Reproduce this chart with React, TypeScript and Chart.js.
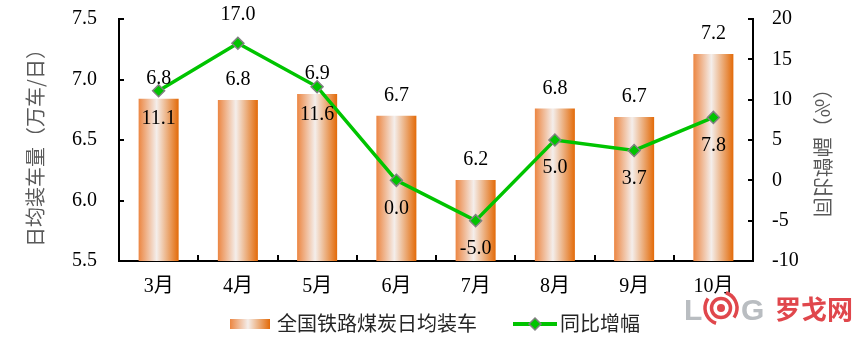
import React, { useEffect, useRef } from 'react';
import { Chart, registerables } from 'chart.js';

Chart.register(...registerables);

const months = ['3月', '4月', '5月', '6月', '7月', '8月', '9月', '10月'];
const dailyLoading = [6.84, 6.83, 6.88, 6.7, 6.17, 6.76, 6.69, 7.21];
const yoyGrowth = [11.1, 17.0, 11.6, 0.0, -5.0, 5.0, 3.7, 7.8];
const leftTicks = [5.5, 6.0, 6.5, 7.0, 7.5];
const rightTicks = [-10, -5, 0, 5, 10, 15, 20];
const barLegend = '全国铁路煤炭日均装车';
const lineLegend = '同比增幅';
const leftTitle = '日均装车量（万车/日）';
const rightTitle = '同比增幅（%）';
const lineLabelAbove = [false, true, false, false, false, false, false, false];

const SERIF = '"Liberation Serif", "Times New Roman", "Noto Sans CJK SC", serif';
const SANS = '"Noto Sans CJK SC", "Noto Sans", sans-serif';
const GREEN = '#00C400';
const BAR_PCT = 0.505;

function makeGradient(c: CanvasRenderingContext2D, x0: number, x1: number) {
  const g = c.createLinearGradient(x0, 0, x1, 0);
  g.addColorStop(0, '#EC8642');
  g.addColorStop(0.45, '#F4EEEB');
  g.addColorStop(1, '#E36A08');
  return g;
}

const decorPlugin = {
  id: 'decor',
  beforeDatasetsDraw(chart: any) {
    const c = chart.ctx as CanvasRenderingContext2D;
    const meta = chart.getDatasetMeta(0);
    meta.data.forEach((el: any) => {
      const x = el.x, w = el.width;
      if (!isFinite(x) || !isFinite(w)) return;
      el.options = { ...el.options, backgroundColor: makeGradient(c, x - w / 2, x + w / 2) };
    });
  },
  afterDatasetsDraw(chart: any) {
    const c = chart.ctx as CanvasRenderingContext2D;
    c.save();
    c.font = `20px ${SERIF}`;
    c.fillStyle = '#000';
    c.textAlign = 'center';
    c.textBaseline = 'middle';
    const barMeta = chart.getDatasetMeta(0);
    barMeta.data.forEach((el: any, i: number) => {
      c.fillText(dailyLoading[i].toFixed(1), el.x, el.y - 20);
    });
    const lineMeta = chart.getDatasetMeta(1);
    lineMeta.data.forEach((el: any, i: number) => {
      const dy = lineLabelAbove[i] ? -28 : 28;
      c.fillText(yoyGrowth[i].toFixed(1), el.x, el.y + dy);
    });
    c.restore();
  },
  afterDraw(chart: any) {
    const c = chart.ctx as CanvasRenderingContext2D;
    const a = chart.chartArea;
    c.save();
    // inward ticks
    c.strokeStyle = '#000';
    c.lineWidth = 2;
    c.beginPath();
    const ys = chart.scales.y;
    leftTicks.forEach((v) => {
      const y = Math.round(ys.getPixelForValue(v));
      c.moveTo(a.left, y);
      c.lineTo(a.left + 5, y);
    });
    const yr = chart.scales.y1;
    rightTicks.forEach((v) => {
      const y = Math.round(yr.getPixelForValue(v));
      c.moveTo(a.right - 5, y);
      c.lineTo(a.right, y);
    });
    const n = months.length;
    const cw = (a.right - a.left) / n;
    for (let i = 1; i < n; i++) {
      const x = Math.round(a.left + i * cw);
      c.moveTo(x, a.bottom);
      c.lineTo(x, a.bottom - 6);
    }
    c.stroke();

    // axis titles
    c.fillStyle = '#595959';
    c.font = `20px ${SANS}`;
    c.textAlign = 'center';
    c.textBaseline = 'middle';
    c.save();
    c.translate(35, 143);
    c.rotate(-Math.PI / 2);
    c.fillText(leftTitle, 0, 0);
    c.restore();
    c.save();
    c.translate(823, 148);
    c.rotate(-Math.PI / 2);
    c.scale(1, -1);
    c.fillText(rightTitle, 0, 0);
    c.restore();

    // legend
    c.fillStyle = makeGradient(c, 230, 270);
    c.fillRect(230, 319, 40, 10);
    c.fillStyle = '#262626';
    c.font = `20px ${SANS}`;
    c.textAlign = 'left';
    c.textBaseline = 'middle';
    c.fillText(barLegend, 277, 323);
    c.strokeStyle = GREEN;
    c.lineWidth = 4;
    c.beginPath();
    c.moveTo(513, 324);
    c.lineTo(557, 324);
    c.stroke();
    c.beginPath();
    c.moveTo(535, 318);
    c.lineTo(541, 324);
    c.lineTo(535, 330);
    c.lineTo(529, 324);
    c.closePath();
    c.fillStyle = GREEN;
    c.fill();
    c.strokeStyle = '#808080';
    c.lineWidth = 1.5;
    c.stroke();
    c.fillStyle = '#262626';
    c.fillText(lineLegend, 560, 323);

    // logo watermark
    c.fillStyle = '#B9BDC1';
    c.font = `bold 30px "Liberation Sans", Arial, sans-serif`;
    c.textBaseline = 'alphabetic';
    c.fillText('L', 684, 320);
    c.fillText('G', 741, 320);
    c.strokeStyle = '#E0474C';
    c.fillStyle = '#E0474C';
    c.lineWidth = 3.5;
    const cx = 721, cy = 308;
    c.beginPath();
    c.arc(cx, cy, 9.5, 0, Math.PI * 2);
    c.stroke();
    c.beginPath();
    c.arc(cx, cy, 4, 0, Math.PI * 2);
    c.fill();
    c.beginPath();
    c.arc(cx, cy, 16, Math.PI * 0.6, Math.PI * 1.2);
    c.stroke();
    c.beginPath();
    c.arc(cx, cy, 16, -Math.PI * 0.4, Math.PI * 0.2);
    c.stroke();
    c.font = `bold 26px ${SANS}`;
    c.textBaseline = 'middle';
    c.fillText('罗戈网', 775, 309);
    c.restore();
  },
};

const zeroPad = (s: any) => {
  s.paddingTop = 0;
  s.paddingBottom = 0;
  s.paddingLeft = 0;
  s.paddingRight = 0;
};

export default function App() {
  const ref = useRef<HTMLCanvasElement | null>(null);
  useEffect(() => {
    if (!ref.current) return;
    const chart = new Chart(ref.current, {
      type: 'bar',
      data: {
        labels: months,
        datasets: [
          {
            type: 'bar',
            label: barLegend,
            data: dailyLoading,
            yAxisID: 'y',
            order: 2,
            barPercentage: BAR_PCT,
            categoryPercentage: 1,
            borderWidth: 0,
            backgroundColor: '#EC8A48',
          } as any,
          {
            type: 'line',
            label: lineLegend,
            data: yoyGrowth,
            yAxisID: 'y1',
            order: 1,
            borderColor: GREEN,
            borderWidth: 3.5,
            tension: 0,
            pointStyle: 'rectRot',
            pointRadius: 6,
            pointBackgroundColor: GREEN,
            pointBorderColor: '#808080',
            pointBorderWidth: 1.5,
          } as any,
        ],
      },
      options: {
        responsive: false,
        animation: false,
        layout: { padding: { top: 19, left: 0, right: 0, bottom: 0 } },
        plugins: { legend: { display: false }, tooltip: { enabled: false } },
        scales: {
          x: {
            grid: { display: false, drawTicks: false },
            border: { display: true, color: '#000', width: 2 },
            ticks: { font: { family: SERIF, size: 20 }, color: '#000', padding: 14, maxRotation: 0, autoSkip: false },
            afterFit: (s: any) => { s.height = 93; zeroPad(s); },
          },
          y: {
            position: 'left',
            min: 5.5,
            max: 7.5,
            afterBuildTicks: (s: any) => { s.ticks = leftTicks.map((v) => ({ value: v })); },
            grid: { display: false, drawTicks: false },
            border: { display: true, color: '#000', width: 2 },
            ticks: { font: { family: SERIF, size: 20 }, color: '#000', padding: 22, callback: (v: any) => Number(v).toFixed(1) },
            afterFit: (s: any) => { s.width = 119; zeroPad(s); },
          },
          y1: {
            position: 'right',
            min: -10,
            max: 20,
            afterBuildTicks: (s: any) => { s.ticks = rightTicks.map((v) => ({ value: v })); },
            grid: { display: false, drawTicks: false },
            border: { display: true, color: '#000', width: 2 },
            ticks: { font: { family: SERIF, size: 20 }, color: '#000', padding: 19, callback: (v: any) => String(v) },
            afterFit: (s: any) => { s.width = 112; zeroPad(s); },
          },
        },
      } as any,
      plugins: [decorPlugin],
    });
    return () => chart.destroy();
  }, []);
  return (
    <div style={{ position: 'fixed', left: 0, top: 0, width: 865, height: 354, background: '#fff' }}>
      <canvas ref={ref} width={865} height={354} style={{ width: 865, height: 354, display: 'block' }} />
    </div>
  );
}
